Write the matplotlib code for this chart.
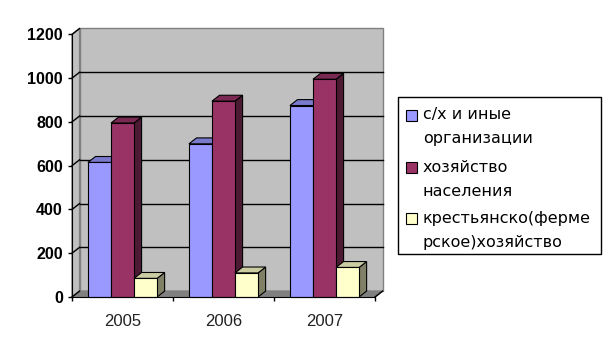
import matplotlib.pyplot as plt
from matplotlib.patches import Polygon, Rectangle

plt.rcParams['font.family'] = ['DejaVu Sans']

# Data
years = ['2005', '2006', '2007']
series_labels = ['с/х и иные\nорганизации', 'хозяйство\nнаселения',
                 'крестьянско(ферме\nрское)хозяйство']
org = [615, 700, 875]
household = [795, 895, 995]
farm = [85, 110, 135]
y_ticks = [0, 200, 400, 600, 800, 1000, 1200]

front_colors = ['#9999FF', '#993366', '#FFFFCC']
top_colors = ['#7A7ACC', '#7A2952', '#CCCCA3']
side_colors = ['#4D4D80', '#4D1A33', '#808066']

W, H = 611, 353
fig = plt.figure(figsize=(W / 100, H / 100), dpi=100)
fig.patch.set_facecolor('white')


def px(x, y):
    return x / W, 1 - y / H


# Plot area placed at front axis corner
ax = fig.add_axes([72 / W, (H - 297) / H, 303 / W, 262.6 / H])
ax.set_xlim(0, 3)
ax.set_ylim(0, 1200)
ax.set_facecolor('none')

DX = 0.075   # depth offset in category units
DY = 27      # depth offset in value units
ymax = y_ticks[-1]
ncat = len(years)

# walls and floor
back = Polygon([(DX, DY), (ncat + DX, DY), (ncat + DX, ymax + DY), (DX, ymax + DY)],
               closed=True, facecolor='#C0C0C0', edgecolor='#808080', lw=1, zorder=0.5, clip_on=False)
left = Polygon([(0, 0), (DX, DY), (DX, ymax + DY), (0, ymax)],
               closed=True, facecolor='#C0C0C0', edgecolor='#808080', lw=1, zorder=0.5, clip_on=False)
floor = Polygon([(0, 0), (ncat, 0), (ncat + DX, DY), (DX, DY)],
                closed=True, facecolor='#808080', edgecolor='#808080', lw=1, zorder=0.6, clip_on=False)
for p in (back, left, floor):
    ax.add_patch(p)

# gridlines on the back wall, slanted ticks on the left wall
for v in y_ticks[1:-1]:
    ax.plot([DX, ncat + DX], [v + DY, v + DY], color='black', lw=1, zorder=0.8, clip_on=False)
for v in y_ticks:
    ax.plot([0, DX], [v, v + DY], color='black', lw=1, zorder=0.8, clip_on=False)
ax.plot([ncat, ncat + DX], [0, DY], color='black', lw=1, zorder=0.8, clip_on=False)

# 3D bars
gap = 0.158
bw = (1 - 2 * gap) / 3
z = 2
for i in range(ncat):
    for j, vals in enumerate([org, household, farm]):
        h = vals[i]
        x0 = i + gap + j * bw
        side = Polygon([(x0 + bw, 0), (x0 + bw + DX, DY), (x0 + bw + DX, h + DY), (x0 + bw, h)],
                       closed=True, facecolor=side_colors[j], edgecolor='black', lw=0.8,
                       zorder=z, clip_on=False)
        top = Polygon([(x0, h), (x0 + bw, h), (x0 + bw + DX, h + DY), (x0 + DX, h + DY)],
                      closed=True, facecolor=top_colors[j], edgecolor='black', lw=0.8,
                      zorder=z + 0.1, clip_on=False)
        front = Rectangle((x0, 0), bw, h, facecolor=front_colors[j], edgecolor='black', lw=0.8,
                          zorder=z + 0.2, clip_on=False)
        ax.add_patch(side)
        ax.add_patch(top)
        ax.add_patch(front)
        z += 0.3

# axes
for s in ['top', 'right']:
    ax.spines[s].set_visible(False)
ax.spines['left'].set_color('black')
ax.spines['bottom'].set_color('black')
ax.spines['left'].set_zorder(10)
ax.spines['bottom'].set_zorder(10)

ax.set_yticks(y_ticks)
ax.set_yticklabels([str(v) for v in y_ticks], fontfamily='Liberation Sans',
                   fontweight='bold', fontsize=11.5)
ax.tick_params(axis='y', direction='out', length=3, width=1, pad=3.5)

ax.set_xticks([i + 0.5 for i in range(ncat)])
ax.set_xticklabels(years, fontfamily='Liberation Sans', fontsize=12, color='#222222')
ax.set_xticks(range(ncat + 1), minor=True)
ax.tick_params(axis='x', which='major', length=0, pad=12)
ax.tick_params(axis='x', which='minor', direction='out', length=3, width=1)

# legend
lx0, ly0, lx1, ly1 = 398, 97, 601, 254
x, y = px(lx0, ly1)
fig.add_artist(Rectangle((x, y), (lx1 - lx0) / W, (ly1 - ly0) / H, transform=fig.transFigure,
                         facecolor='white', edgecolor='black', lw=1))
line_y = [(115, 139), (167, 191), (218, 243)]
for j, lab in enumerate(series_labels):
    l1, l2 = lab.split('\n')
    y1, y2 = line_y[j]
    sx, sy = px(406, y1 + 5.5)
    fig.add_artist(Rectangle((sx, sy), 11 / W, 11 / H, transform=fig.transFigure,
                             facecolor=front_colors[j], edgecolor='black', lw=0.8))
    fig.text(*px(423, y1), l1, va='center', ha='left', fontsize=11.5, color='black')
    fig.text(*px(423, y2), l2, va='center', ha='left', fontsize=11.5, color='black')

fig.savefig('out.png', dpi=100)
